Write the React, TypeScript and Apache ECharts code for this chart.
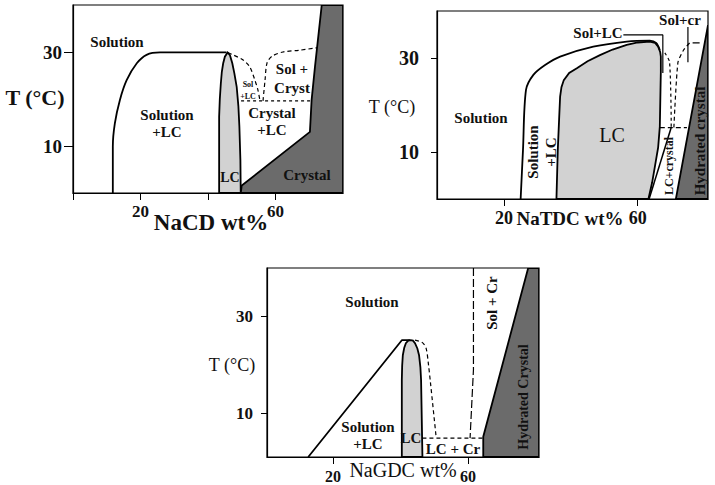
import React, { useEffect, useRef } from "react";
import * as echarts from "echarts";

const FONT = "Liberation Serif";

// ---- common ticks ----
const tempTicks = [10, 30];

// ---- Panel 1: NaCD ----
const nacdTicksX = [0, 20, 40, 60];
const nacdLabelsX = [20, 60];
const nacdSolLCBoundary = [[11.8, 0], [11.8, 9.9], [12.4, 14.8], [13.9, 19.8], [15.9, 24.0], [18.9, 27.6], [21.8, 29.4], [25.8, 29.9], [45.5, 29.9]];
const nacdLC = [[43.3, 0], [43.3, 16.2], [43.5, 20.0], [43.8, 23.3], [44.1, 25.8], [44.5, 27.6], [45.0, 29.0], [45.8, 29.9], [46.5, 29.3], [47.2, 27.6], [47.8, 25.5], [48.5, 22.6], [49.0, 18.5], [49.3, 14.1], [49.6, 7.0], [49.7, 0]];
const nacdCrystal = [[49.7, 0], [50.0, 1.6], [70.2, 13.0], [70.7, 19.8], [71.7, 26.9], [73.7, 40], [80, 40], [80, 0]];
const nacdSolLCDashed = [[45.9, 29.9], [47.4, 29.4], [50.4, 28.3], [52.4, 26.8], [53.9, 24.0], [54.8, 21.9], [55.4, 19.6]];
const nacdSolCrystDashed = [[56.3, 19.6], [56.9, 24.0], [57.5, 27.7], [59.0, 29.1], [62.2, 30.0], [67.3, 30.4], [72.3, 30.9]];
const nacdEutectic = [[49.8, 19.6], [70.7, 19.6]];

// ---- Panel 2: NaTDC ----
const natdcTicksX = [20, 60];
const natdcOuter = [[25.0, 0], [25.7, 10.4], [26.6, 23.2], [28.8, 26.4], [32.3, 28.5], [36.8, 30.3], [46.7, 32.4], [56.7, 33.5], [63.6, 33.7], [65.5, 33.2], [66.6, 31.7]];
const natdcLC = [[35.7, 0], [36.1, 10.4], [36.5, 17.0], [36.8, 21.8], [37.2, 23.8], [37.9, 25.3], [39.5, 26.8], [41.8, 27.8], [45.0, 29.3], [48.7, 30.6], [52.5, 31.8], [56.7, 32.8], [60.0, 33.3], [63.6, 33.5], [65.2, 33.2], [66.1, 32.4], [66.7, 31.3], [66.9, 30.3], [66.9, 27.0], [66.8, 23.2], [66.6, 15.4], [66.1, 11.0], [65.2, 7.2], [64.3, 3.5], [63.2, 0]];
const natdcSolLCLeader = [[55.7, 34.9], [67.5, 34.9], [67.5, 26.8]];
const natdcSolLCDashed = [[68.1, 31.1], [69.5, 29.2], [70.0, 16.2], [70.0, 15.2]];
const natdcEutectic = [[66.6, 15.2], [74.7, 15.2]];
const natdcStripLine = [[63.4, 0], [70.0, 15.2]];
const natdcSolCrDashed = [[70.8, 15.2], [72.0, 29.0], [73.7, 31.7], [75.5, 33.2]];
const natdcSolCrTick = [[76.4, 33.2], [78.5, 33.2]];
const natdcSolCrLeader = [[75.0, 36.6], [75.0, 29.1]];
const natdcHydrated = [[71.4, 0], [81, 37.0], [81, 0]];

// ---- Panel 3: NaGDC ----
const nagdcTicksX = [20, 60];
const nagdcSolLC = [[12.7, 1], [40.4, 25.1], [42.8, 25.1]];
const nagdcLC = [[40.4, 1], [40.4, 16.9], [40.5, 19.8], [40.7, 22.0], [41.1, 23.5], [41.6, 24.5], [42.3, 25.0], [43.0, 25.1], [43.7, 25.0], [44.3, 24.5], [45.0, 23.4], [45.5, 22.0], [45.9, 19.5], [46.1, 16.9], [46.3, 9.0], [46.5, 1]];
const nagdcLCDashed = [[44.3, 25.1], [46.5, 24.6], [47.6, 23.4], [48.3, 20.0], [48.9, 16.2], [50.5, 5.5], [50.6, 4.9]];
const nagdcEutectic = [[46.5, 4.9], [64.5, 4.9]];
const nagdcSolCr = [[61.6, 40], [61.6, 19.0], [60.6, 4.9]];
const nagdcHydrated = [[64.5, 1], [64.5, 5.2], [77.8, 40], [81, 40], [81, 1]];

const LIGHT = "#d2d2d2";
const DARK = "#6b6b6b";

function poly(pts: number[][], idx: number, fill: string) {
  return {
    type: "custom",
    coordinateSystem: "cartesian2d",
    xAxisIndex: idx,
    yAxisIndex: idx,
    clip: true,
    silent: true,
    z: 1,
    data: pts,
    renderItem: (params: any, api: any) => {
      if (params.dataIndex !== 0) return null;
      return {
        type: "polygon",
        shape: { points: pts.map((p) => api.coord(p)) },
        style: { fill, stroke: "#000", lineWidth: 1.8 },
      };
    },
  };
}

function line(pts: number[][], idx: number, kind: any = "solid", width = 1.8, smooth: any = false) {
  return {
    type: "line",
    xAxisIndex: idx,
    yAxisIndex: idx,
    data: pts,
    symbol: "none",
    smooth,
    silent: true,
    clip: true,
    z: 3,
    lineStyle: { color: "#000", width, type: kind },
  };
}

function txt(text: string, x: number, y: number, size: number, weight = "bold", rotation = 0, lh?: number) {
  return {
    type: "text",
    x,
    y,
    rotation,
    z: 100,
    silent: true,
    style: {
      text,
      fontFamily: FONT,
      fontSize: size,
      fontWeight: weight,
      fill: "#111",
      align: "center",
      verticalAlign: "middle",
      lineHeight: lh ?? size + 2,
    },
  };
}

function xAxis(idx: number, min: number, max: number, ticks: number[], labels: number[], size: number, weight: string, margin: number) {
  return {
    type: "value",
    gridIndex: idx,
    min,
    max,
    axisLine: { show: true, onZero: false, lineStyle: { color: "#000", width: 1.2 } },
    axisTick: { show: true, customValues: ticks, length: 7, lineStyle: { color: "#000" } },
    axisLabel: { customValues: labels, fontFamily: FONT, fontSize: size, fontWeight: weight, color: "#111", margin },
    splitLine: { show: false },
  };
}

function yAxis(idx: number, min: number, max: number, size: number, margin: number, tickLen: number) {
  return {
    type: "value",
    gridIndex: idx,
    min,
    max,
    axisLine: { show: true, onZero: false, lineStyle: { color: "#000", width: 1.2 } },
    axisTick: { show: true, customValues: tempTicks, length: tickLen, lineStyle: { color: "#000" } },
    axisLabel: { customValues: tempTicks, fontFamily: FONT, fontSize: size, fontWeight: "bold", color: "#111", margin },
    splitLine: { show: false },
  };
}

export default function App() {
  const ref = useRef<HTMLDivElement>(null);
  useEffect(() => {
    if (!ref.current) return;
    const chart = echarts.init(ref.current, undefined, { renderer: "svg" });
    const gridBase = { show: true, borderColor: "#000", borderWidth: 1.2, backgroundColor: "#fff", containLabel: false };
    chart.setOption({
      animation: false,
      backgroundColor: "#fff",
      grid: [
        { ...gridBase, left: 73, top: 5, width: 270, height: 188 },
        { ...gridBase, left: 437, top: 11, width: 271, height: 188 },
        { ...gridBase, left: 267, top: 268, width: 272, height: 189 },
      ],
      xAxis: [
        xAxis(0, 0, 80, nacdTicksX, nacdLabelsX, 17, "bold", 10),
        xAxis(1, 0, 81, natdcTicksX, natdcTicksX, 18, "bold", 10),
        xAxis(2, 0.5, 81, nagdcTicksX, nagdcTicksX, 16, "bold", 11),
      ],
      yAxis: [
        yAxis(0, 0, 40, 19, 11, 9),
        yAxis(1, 0, 40, 20, 18, 6),
        yAxis(2, 1, 40, 17, 14, 6),
      ],
      series: [
        // panel 1
        poly(nacdLC, 0, LIGHT),
        poly(nacdCrystal, 0, DARK),
        line(nacdSolLCBoundary, 0, "solid", 1.8, 0.3),
        line(nacdSolLCDashed, 0, [4, 3], 1.2, 0.3),
        line(nacdSolCrystDashed, 0, [4, 3], 1.2, 0.3),
        line(nacdEutectic, 0, [3, 3], 1.2),
        // panel 2
        poly(natdcLC, 1, LIGHT),
        poly(natdcHydrated, 1, DARK),
        line(natdcOuter, 1, "solid", 1.8, 0.3),
        line(natdcSolLCLeader, 1, "solid", 1.2),
        line(natdcSolLCDashed, 1, [3, 3], 1.2, 0.2),
        line(natdcEutectic, 1, [5, 3], 1.2),
        line(natdcStripLine, 1, "solid", 1.5),
        line(natdcSolCrDashed, 1, [4, 3], 1.2, 0.2),
        line(natdcSolCrTick, 1, "solid", 1.2),
        line(natdcSolCrLeader, 1, "solid", 1.2),
        // panel 3
        poly(nagdcLC, 2, LIGHT),
        poly(nagdcHydrated, 2, DARK),
        line(nagdcSolLC, 2, "solid", 1.8),
        line(nagdcLCDashed, 2, [4, 3], 1.2, 0.3),
        line(nagdcEutectic, 2, [4, 3], 1.2),
        line(nagdcSolCr, 2, [8, 3], 1.2),
      ],
      graphic: [
        // panel 1
        txt("T (°C)", 35, 97, 22),
        txt("NaCD wt%", 211, 222, 23),
        txt("Solution", 117, 42, 15),
        txt("Solution\n+LC", 167, 123, 15, "bold", 0, 17),
        txt("LC", 230, 177, 14),
        txt("Sol +\nCryst", 292, 78, 15, "bold", 0, 19),
        txt("Crystal\n+LC", 272, 121, 15, "bold", 0, 17),
        txt("Crystal", 307, 175, 15),
        txt("Sol\n+LC", 248, 90, 8, "bold", 0, 12),
        // panel 2
        txt("T (°C)", 392, 107, 18, "normal"),
        txt("NaTDC wt%", 570, 218, 19),
        txt("Solution", 481, 118, 15),
        txt("Solution\n+LC", 542, 152, 15, "bold", Math.PI / 2, 18),
        txt("LC", 612, 135, 20, "normal"),
        txt("Sol+LC", 598, 33, 15),
        txt("Sol+cr", 680, 20, 15),
        txt("LC+crystal", 669, 166, 12, "bold", Math.PI / 2),
        txt("Hydrated crystal", 700, 141, 15, "bold", Math.PI / 2),
        // panel 3
        txt("T (°C)", 232, 365, 18, "normal"),
        txt("NaGDC wt%", 403, 470, 20, "normal"),
        txt("Solution", 372, 302, 15),
        txt("Solution\n+LC", 368, 435, 15, "bold", 0, 17),
        txt("LC", 411, 438, 15),
        txt("LC + Cr", 453, 449, 15),
        txt("Sol + Cr", 492, 303, 15, "bold", Math.PI / 2),
        txt("Hydrated Crystal", 523, 397, 14, "bold", Math.PI / 2),
      ],
    });
    return () => chart.dispose();
  }, []);
  return (
    <div
      ref={ref}
      style={{ position: "fixed", left: 0, top: 0, width: 715, height: 485, background: "#fff" }}
    />
  );
}
